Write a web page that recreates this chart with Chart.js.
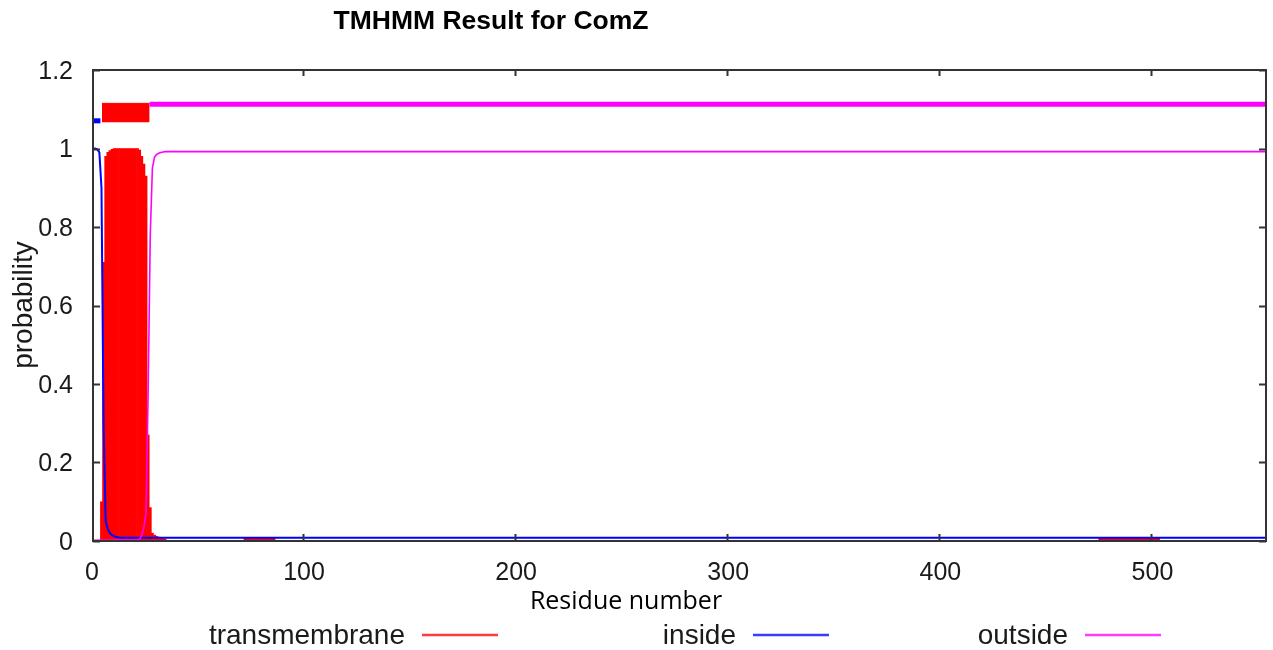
<!DOCTYPE html>
<html>
<head>
<meta charset="utf-8">
<title>TMHMM Result for ComZ</title>
<script src="https://cdn.jsdelivr.net/npm/chart.js@4.4.1/dist/chart.umd.min.js"></script>
<style>
  html, body { margin: 0; padding: 0; background: #fff; }
  canvas { display: block; }
</style>
</head>
<body>
<canvas id="chart" width="1273" height="650"></canvas>
<script>
// Posterior probabilities per residue (sequence length 554)
const seqLength = 554;

const tmResidues = [5, 6, 7, 8, 9, 10, 11, 12, 13, 14, 15, 16, 17, 18, 19, 20, 21, 22,
  23, 24, 25, 26, 27, 28, 29, 30, 31, 32, 33, 34, 35];
const tmProb = [0.10, 0.71, 0.98, 0.99, 0.995, 0.998, 1, 1, 1, 1, 1, 1, 1, 1, 1, 1, 1, 1,
  0.996, 0.98, 0.96, 0.93, 0.27, 0.085, 0.02, 0.015, 0.012, 0.01, 0.008, 0.006, 0.005];

// faint transmembrane signal further along the chain
const tmLowSpans = [[72, 87], [475, 504]];
const tmLowProb = 0.004;

const insideResidues = [1, 2, 3, 4, 5, 6, 7, 8, 9, 10, 11, 12, 13, 14, 554];
const insideProb = [1, 1, 0.998, 0.99, 0.9, 0.29, 0.05, 0.03, 0.02, 0.015, 0.012, 0.01, 0.009, 0.008, 0.008];

const outsideResidues = [1, 22, 23, 24, 25, 26, 27, 28, 29, 30, 31, 32, 33, 34, 35, 554];
const outsideProb = [0.002, 0.003, 0.005, 0.015, 0.035, 0.07, 0.38, 0.78, 0.95, 0.978, 0.985, 0.988, 0.99, 0.991, 0.992, 0.992];

// predicted topology bar across the top
const insideSpan = [1, 4.5];
const insideBandY = 1.0705;
const tmSpan = [5.2, 27.7];
const tmBandTop = 1.115;
const tmBandBottom = 1.067;
const outsideSpan = [27.7, 554];
const outsideBandY = 1.113;

const xTicks = [0, 100, 200, 300, 400, 500];
const yTicks = [0, 0.2, 0.4, 0.6, 0.8, 1, 1.2];
const legendLabels = ['transmembrane', 'inside', 'outside'];

const RED = '#ff0000';
const BLUE = '#0000ff';
const MAGENTA = '#ff00ff';

function points(xs, ys) {
  return xs.map((x, i) => ({ x: x, y: ys[i] }));
}

function span(range, y) {
  return [{ x: range[0], y: y }, { x: range[1], y: y }];
}

const lineDefaults = {
  type: 'line',
  pointRadius: 0,
  tension: 0,
  fill: false
};

const datasets = [
  { ...lineDefaults, label: 'outside', data: points(outsideResidues, outsideProb),
    borderColor: MAGENTA, borderWidth: 1.6, order: 1 },
  { ...lineDefaults, label: 'inside', data: points(insideResidues, insideProb),
    borderColor: BLUE, borderWidth: 2, order: 2 },
  { ...lineDefaults, label: 'outside band', data: span(outsideSpan, outsideBandY),
    borderColor: MAGENTA, borderWidth: 5, borderCapStyle: 'butt', order: 1 },
  { ...lineDefaults, label: 'inside band', data: span(insideSpan, insideBandY),
    borderColor: BLUE, borderWidth: 5, borderCapStyle: 'butt', order: 1 },
  { ...lineDefaults, label: 'tm band', data: span(tmSpan, tmBandTop),
    borderColor: RED, borderWidth: 1, backgroundColor: RED,
    fill: { value: tmBandBottom }, order: 1 },
  ...tmLowSpans.map(s => ({ ...lineDefaults, label: 'tm low', data: span(s, tmLowProb),
    borderColor: RED, borderWidth: 3, borderCapStyle: 'butt', order: 3 })),
  { type: 'bar', label: 'transmembrane', data: points(tmResidues, tmProb),
    backgroundColor: RED, borderWidth: 0, barPercentage: 1, categoryPercentage: 1,
    grouped: false, order: 4 }
];

// frame, inward ticks, labels and legend
const framePlugin = {
  id: 'frame',
  afterDraw(chart) {
    const { ctx, chartArea: a, scales: { x, y } } = chart;
    ctx.save();

    ctx.strokeStyle = '#333';
    ctx.lineWidth = 2;
    ctx.strokeRect(a.left, a.top, a.right - a.left, a.bottom - a.top);

    ctx.beginPath();
    xTicks.forEach(v => {
      const px = Math.round(x.getPixelForValue(v)) + 0.5;
      if (px < a.left + 2) return;
      ctx.moveTo(px, a.bottom);
      ctx.lineTo(px, a.bottom - 7);
      ctx.moveTo(px, a.top);
      ctx.lineTo(px, a.top + 6);
    });
    yTicks.forEach(v => {
      const py = Math.round(y.getPixelForValue(v)) + 0.5;
      ctx.moveTo(a.left, py);
      ctx.lineTo(a.left + 7, py);
      ctx.moveTo(a.right, py);
      ctx.lineTo(a.right - 7, py);
    });
    ctx.stroke();

    ctx.fillStyle = '#1a1a1a';
    ctx.font = '25px "Liberation Sans", Arial, sans-serif';
    ctx.textAlign = 'center';
    ctx.textBaseline = 'alphabetic';
    xTicks.forEach(v => {
      ctx.fillText(String(v), x.getPixelForValue(v) + 1, a.bottom + 39);
    });
    ctx.textAlign = 'right';
    ctx.textBaseline = 'middle';
    yTicks.forEach(v => {
      ctx.fillText(String(+v.toFixed(1)), a.left - 20, y.getPixelForValue(v) + 2);
    });

    // axis titles
    ctx.font = '28px "Liberation Sans", Arial, sans-serif';
    ctx.save();
    ctx.translate(24, 305);
    ctx.rotate(-Math.PI / 2);
    ctx.textAlign = 'center';
    ctx.fillText('probability', 0, 0);
    ctx.restore();

    ctx.font = '25px "Open Sans", sans-serif';
    ctx.textAlign = 'center';
    ctx.textBaseline = 'alphabetic';
    ctx.fillStyle = '#000';
    ctx.fillText('Residue number', 626, 609);

    ctx.font = 'bold 26.5px "Liberation Sans", Arial, sans-serif';
    ctx.fillText('TMHMM Result for ComZ', 491, 29);

    // legend: text followed by a line sample
    const legendColors = ['#ff3b3b', '#3b3bff', '#ff3bff'];
    const legendRight = [405, 736, 1068];
    ctx.font = '28px "Liberation Sans", Arial, sans-serif';
    ctx.fillStyle = '#1a1a1a';
    ctx.textAlign = 'right';
    ctx.lineWidth = 2.5;
    legendLabels.forEach((label, i) => {
      ctx.fillText(label, legendRight[i], 644);
      ctx.strokeStyle = legendColors[i];
      ctx.beginPath();
      ctx.moveTo(legendRight[i] + 17, 635);
      ctx.lineTo(legendRight[i] + 93, 635);
      ctx.stroke();
    });

    ctx.restore();
  }
};

new Chart(document.getElementById('chart'), {
  type: 'line',
  data: { datasets: datasets },
  options: {
    responsive: false,
    animation: false,
    layout: { padding: { left: 93, right: 7, top: 70, bottom: 109 } },
    plugins: {
      legend: { display: false },
      tooltip: { enabled: false }
    },
    scales: {
      x: { type: 'linear', min: 1, max: seqLength, offset: false, display: false },
      y: { type: 'linear', min: 0, max: 1.2, display: false }
    }
  },
  plugins: [framePlugin]
});
</script>
</body>
</html>
